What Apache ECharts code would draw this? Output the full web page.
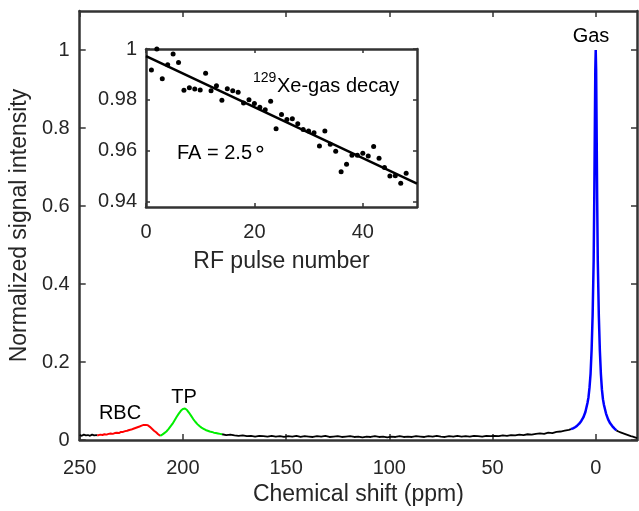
<!DOCTYPE html>
<html><head><meta charset="utf-8">
<script src="https://cdn.jsdelivr.net/npm/echarts/dist/echarts.min.js"></script>
<style>html,body{margin:0;padding:0;background:#fff}#c{width:639px;height:511px}</style>
</head><body><div id="c"></div>
<script>
// ---------- Main spectrum data: [chemical shift (ppm), normalized intensity] ----------
const baselineLeft = [[250,0.013],[249,0.011],[248,0.014],[247,0.012],[246,0.013],[245,0.011],[244,0.014],[243,0.012],[242,0.013],[241.5,0.012]];
const rbcPeak = [[241.5,0.012],[240,0.014],[239,0.013],[238,0.015],[237,0.014],[236,0.016],[235,0.017],[234,0.016],[233,0.018],[232,0.019],[231,0.018],[230,0.021],[229,0.021],[228,0.023],[227,0.024],[226,0.026],[225,0.027],[224,0.029],[223,0.031],[222,0.033],[221,0.035],[220,0.037],[219,0.039],[218.5,0.040],[218,0.039],[217,0.038],[216,0.034],[215,0.029],[214,0.024],[213,0.020],[212,0.015],[211,0.011]];
const tpPeak = [[211,0.011],[210,0.014],[209,0.018],[208,0.022],[207,0.028],[206,0.035],[205,0.042],[204,0.051],[203,0.060],[202,0.068],[201,0.075],[200,0.080],[199.5,0.082],[199,0.081],[198,0.077],[197,0.070],[196,0.062],[195,0.054],[194,0.047],[193,0.041],[192,0.036],[191,0.032],[190,0.029],[189,0.026],[188,0.024],[187,0.022],[186,0.021],[185,0.019],[184,0.018],[183,0.017],[182,0.016],[181,0.015]];
const baselineMid = [[181,0.015],[179,0.013],[177,0.014],[175,0.012],[173,0.011],[171,0.012],[169,0.010],[167,0.011],[165,0.009],[163,0.011],[161,0.010],[159,0.009],[157,0.011],[155,0.009],[153,0.010],[151,0.008],[149,0.010],[147,0.009],[145,0.011],[143,0.008],[141,0.010],[139,0.009],[137,0.008],[135,0.010],[133,0.009],[131,0.011],[129,0.008],[127,0.009],[125,0.010],[123,0.008],[121,0.009],[119,0.010],[117,0.008],[115,0.009],[113,0.007],[111,0.009],[109,0.008],[107,0.010],[105,0.008],[103,0.009],[101,0.007],[99,0.009],[97,0.008],[95,0.010],[93,0.008],[91,0.009],[89,0.008],[87,0.010],[85,0.009],[83,0.008],[81,0.010],[79,0.009],[77,0.011],[75,0.009],[73,0.008],[71,0.010],[69,0.009],[67,0.011],[65,0.009],[63,0.010],[61,0.009],[59,0.011],[57,0.010],[55,0.009],[53,0.011],[51,0.010],[49,0.011],[47,0.010],[45,0.012],[43,0.011],[41,0.013],[39,0.012],[37,0.014],[35,0.013],[33,0.015],[31,0.014],[29,0.016],[27,0.017],[25,0.016],[23,0.019],[21,0.018],[19,0.021],[17,0.022],[15,0.024],[13,0.026],[12,0.028]];
const gasPeak = [[12,0.028],[11,0.030],[10,0.033],[9,0.037],[8,0.042],[7,0.049],[6,0.058],[5,0.072],[4,0.095],[3.5,0.11],[3,0.135],[2.5,0.17],[2,0.23],[1.5,0.32],[1,0.46],[0.7,0.62],[0.4,0.82],[0.2,0.95],[0,1.0],[-0.2,0.95],[-0.4,0.82],[-0.7,0.62],[-1,0.46],[-1.5,0.32],[-2,0.23],[-2.5,0.17],[-3,0.13],[-3.5,0.105],[-4,0.09],[-5,0.068],[-6,0.053],[-7,0.043],[-8,0.036],[-9,0.030],[-10,0.025]];
const baselineRight = [[-10,0.025],[-11,0.022],[-12,0.020],[-13,0.018],[-14,0.016],[-15,0.014],[-16,0.012],[-17,0.010],[-18,0.009],[-19,0.007],[-20,0.005]];

const mainXTicks = [0, 50, 100, 150, 200, 250];
const mainYTicks = [0, 0.2, 0.4, 0.6, 0.8, 1];

// ---------- Inset data ----------
const pulseNumber = [1,2,3,4,5,6,7,8,9,10,11,12,13,14,15,16,17,18,19,20,21,22,23,24,25,26,27,28,29,30,31,32,33,34,35,36,37,38,39,40,41,42,43,44,45,46,47,48];
const gasSignal = [0.9918,1.0,0.9883,0.9938,0.998,0.9947,0.9838,0.9848,0.9843,0.9839,0.9905,0.9836,0.9856,0.9799,0.9844,0.9836,0.983,0.9788,0.9801,0.9786,0.9771,0.9762,0.9795,0.9687,0.9743,0.9723,0.9726,0.9707,0.9684,0.9678,0.9671,0.9619,0.9678,0.9626,0.9599,0.9518,0.9548,0.9583,0.9583,0.9591,0.958,0.9617,0.9571,0.9535,0.9502,0.9503,0.9473,0.9512];
const fitLine = [[0,0.9972],[50,0.9472]];
const insetXTicks = [0, 20, 40];
const insetYTicks = [0.94, 0.96, 0.98, 1];

// ---------- Chart ----------
const FONT = '"Liberation Sans", Arial, Helvetica, sans-serif';
const AX = '#333333';
const LBL = '#262626';

function axisLine(){ return {show:true, onZero:false, lineStyle:{color:AX, width:2.5}}; }

const chart = echarts.init(document.getElementById('c'), null, {renderer:'canvas'});
const option = {
  animation:false,
  backgroundColor:'#ffffff',
  grid:[
    {left:77, top:11, width:560, height:430, show:false},
    {left:146, top:49, width:271, height:158, show:true, backgroundColor:'#ffffff', borderWidth:0, z:5}
  ],
  xAxis:[
    {gridIndex:0, type:'value', min:-20, max:250, inverse:true, position:'bottom',
     axisLine:axisLine(), splitLine:{show:false},
     axisTick:{inside:true, length:6, customValues:mainXTicks, lineStyle:{color:AX, width:1.5}},
     axisLabel:{customValues:mainXTicks, margin:18, fontSize:20, fontFamily:FONT, color:LBL},
     name:'Chemical shift (ppm)', nameLocation:'middle', nameGap:42,
     nameTextStyle:{fontSize:23, fontFamily:FONT, color:LBL}},
    {gridIndex:0, type:'value', min:-20, max:250, inverse:true, position:'top',
     axisLine:axisLine(), splitLine:{show:false},
     axisTick:{inside:true, length:6, customValues:mainXTicks, lineStyle:{color:AX, width:1.5}},
     axisLabel:{show:false}},
    {gridIndex:1, type:'value', min:0, max:50, position:'bottom', z:6,
     axisLine:axisLine(), splitLine:{show:false},
     axisTick:{inside:true, length:4, customValues:insetXTicks, lineStyle:{color:AX, width:1.5}},
     axisLabel:{customValues:insetXTicks, margin:15, fontSize:20, fontFamily:FONT, color:LBL},
     name:'RF pulse number', nameLocation:'middle', nameGap:43,
     nameTextStyle:{fontSize:23, fontFamily:FONT, color:LBL}},
    {gridIndex:1, type:'value', min:0, max:50, position:'top', z:6,
     axisLine:axisLine(), splitLine:{show:false},
     axisTick:{inside:true, length:4, customValues:insetXTicks, lineStyle:{color:AX, width:1.5}},
     axisLabel:{show:false}}
  ],
  yAxis:[
    {gridIndex:0, type:'value', min:0, max:1.1, position:'left',
     axisLine:axisLine(), splitLine:{show:false},
     axisTick:{inside:true, length:6, customValues:mainYTicks, lineStyle:{color:AX, width:1.5}},
     axisLabel:{customValues:mainYTicks, margin:10, fontSize:20, fontFamily:FONT, color:LBL},
     name:'Normalized signal intensity', nameLocation:'middle', nameGap:42,
     nameTextStyle:{fontSize:23, fontFamily:FONT, color:LBL}},
    {gridIndex:0, type:'value', min:0, max:1.1, position:'right',
     axisLine:axisLine(), splitLine:{show:false},
     axisTick:{inside:true, length:6, customValues:mainYTicks, lineStyle:{color:AX, width:1.5}},
     axisLabel:{show:false}},
    {gridIndex:1, type:'value', min:0.938, max:1, position:'left', z:6,
     axisLine:axisLine(), splitLine:{show:false},
     axisTick:{inside:true, length:4, customValues:insetYTicks, lineStyle:{color:AX, width:1.5}},
     axisLabel:{customValues:insetYTicks, margin:9, fontSize:20, fontFamily:FONT, color:LBL}},
    {gridIndex:1, type:'value', min:0.938, max:1, position:'right', z:6,
     axisLine:axisLine(), splitLine:{show:false},
     axisTick:{inside:true, length:4, customValues:insetYTicks, lineStyle:{color:AX, width:1.5}},
     axisLabel:{show:false}}
  ],
  series:[
    {type:'line', xAxisIndex:0, yAxisIndex:0, data:baselineLeft, showSymbol:false, symbol:'none', lineStyle:{color:'#000', width:1.8}},
    {type:'line', xAxisIndex:0, yAxisIndex:0, data:baselineMid, showSymbol:false, symbol:'none', lineStyle:{color:'#000', width:1.8}},
    {type:'line', xAxisIndex:0, yAxisIndex:0, data:baselineRight, showSymbol:false, symbol:'none', lineStyle:{color:'#000', width:1.8}},
    {type:'line', xAxisIndex:0, yAxisIndex:0, data:rbcPeak, showSymbol:false, symbol:'none', lineStyle:{color:'#ff0000', width:2}},
    {type:'line', xAxisIndex:0, yAxisIndex:0, data:tpPeak, showSymbol:false, symbol:'none', lineStyle:{color:'#00ee00', width:2}},
    {type:'line', xAxisIndex:0, yAxisIndex:0, data:gasPeak, showSymbol:false, symbol:'none', lineStyle:{color:'#0000ff', width:2.5}},
    {type:'scatter', xAxisIndex:2, yAxisIndex:2, z:7, data:pulseNumber.map((n,i)=>[n, gasSignal[i]]), symbol:'circle', symbolSize:5, itemStyle:{color:'#000', opacity:1}},
    {type:'line', xAxisIndex:2, yAxisIndex:2, z:7, data:fitLine, showSymbol:false, symbol:'none', lineStyle:{color:'#000', width:2.5}}
  ],
  graphic:[
    {type:'text', x:591, y:36, z:100, style:{text:'Gas', fontSize:20, fontFamily:FONT, fill:'#000', align:'center', verticalAlign:'middle'}},
    {type:'text', x:184, y:397, z:100, style:{text:'TP', fontSize:20, fontFamily:FONT, fill:'#000', align:'center', verticalAlign:'middle'}},
    {type:'text', x:120, y:413, z:100, style:{text:'RBC', fontSize:20, fontFamily:FONT, fill:'#000', align:'center', verticalAlign:'middle'}},
    {type:'text', x:253, y:78, z:100, style:{text:'129', fontSize:14, fontFamily:FONT, fill:'#000', align:'left', verticalAlign:'middle'}},
    {type:'text', x:277, y:86, z:100, style:{text:'Xe-gas decay', fontSize:20, fontFamily:FONT, fill:'#000', align:'left', verticalAlign:'middle'}},
    {type:'text', x:177, y:153, z:100, style:{text:'FA = 2.5', fontSize:20, fontFamily:FONT, fill:'#000', align:'left', verticalAlign:'middle'}},
    {type:'text', x:260, y:150, z:100, style:{text:'\u2218', fontSize:22, fontFamily:'"DejaVu Sans", sans-serif', fill:'#000', align:'center', verticalAlign:'middle'}}
  ]
};
chart.setOption(option);
</script></body></html>
